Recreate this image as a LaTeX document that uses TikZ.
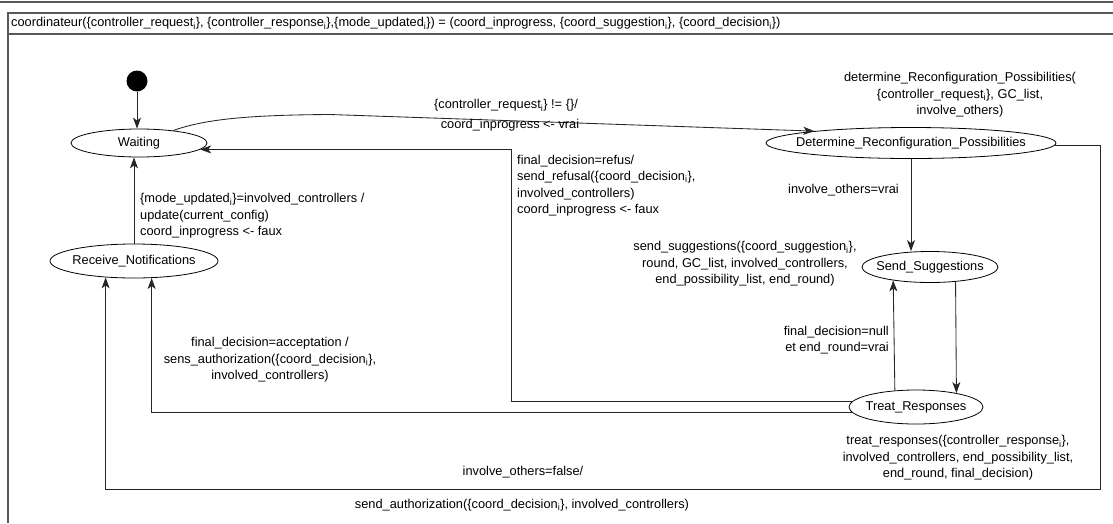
\documentclass[tikz,border=0pt]{standalone}
\usepackage{fontspec}
\setmainfont{Liberation Sans}
\usetikzlibrary{arrows.meta,shapes.geometric,calc}
\newcommand\diagfont{\fontsize{12.8}{16.5}\selectfont}
\newcommand\sbi{\textsubscript{i}}
\begin{document}
\begin{tikzpicture}[x=1pt,y=-1pt,
  frame/.style={draw=black!65, line width=1.1pt},
  state/.style={draw=black, ellipse, inner sep=0pt, line width=0.8pt},
  conn/.style={draw=black!85, line width=0.85pt},
  arr/.style={conn, -{Stealth[length=11pt,width=8pt,inset=3pt]}},
  txt/.style={font=\diagfont, inner sep=0pt, text=black},
  every label/.style={font=\diagfont, inner sep=0pt}
]
\useasboundingbox (0,0) rectangle (1113,523);
% frame
\draw[frame] (0,2) -- (1113,2);
\draw[frame] (1113,13) -- (8,13) -- (8,523);
\draw[frame] (8,34) -- (1113,34);
\node[txt, anchor=west] (title) at (11,23.5) {coordinateur(\{controller\_request\sbi\}, \{controller\_response\sbi\},\{mode\_updated\sbi\}) = (coord\_inprogress, \{coord\_suggestion\sbi\}, \{coord\_decision\sbi\})};

% states
\node[circle, fill=black, minimum size=21pt, inner sep=0pt] (init) at (137,81) {};
\node[state, minimum width=136pt, minimum height=28pt, label=center:{Waiting}] (W) at (139,143) {};
\node[state, minimum width=168pt, minimum height=34pt, label=center:{Receive\_Notifications}] (R) at (134,261) {};
\node[state, minimum width=290pt, minimum height=31pt, label=center:{Determine\_Reconfiguration\_Possibilities}] (D) at (911,143) {};
\node[state, minimum width=136pt, minimum height=31pt, label=center:{Send\_Suggestions}] (S) at (930,267) {};
\node[state, minimum width=134pt, minimum height=34pt, label=center:{Treat\_Responses}] (T) at (916,407) {};

% helper coordinates
\coordinate (refx) at (511,0);
\coordinate (fr) at (1100,489);

% connectors
\draw[arr] (init.south) -- (init.south |- W.north);
\draw[arr] (W.20) .. controls (205,119) and (250,115) .. (330,114.5) -- (D.173);
\draw[arr] (D.south) -- (D.south |- S.north);
\draw[arr] (S.-30) -- (T.19.4);
\draw[arr] (T.142.5) -- (S.200.7);
\draw[arr] (T.175) -- (T.175 -| refx) -- (refx |- W.-6) -- (W.-6);
\draw[arr] (T.185) -- (T.185 -| R.-44.4) -- (R.-44.4);
\draw[arr] (R.north) -- (R.north |- W.south);
\draw[arr] (D.-1.6) -| (fr) -| (R.210.8);

% labels
\node[txt] (lreq) at (506,105.5) {\{controller\_request\sbi\} != \{\}/};
\node[txt] (lreq2) at (510,125) {coord\_inprogress <- vrai};
\node[txt, align=center] (ldet) at (960,95) {determine\_Reconfiguration\_Possibilities(\\\{controller\_request\sbi\}, GC\_list,\\involve\_others)};
\node[txt, anchor=east] (lvrai) at (899,190) {involve\_others=vrai};
\node[txt, align=center] (lsend) at (745,264) {send\_suggestions(\{coord\_suggestion\sbi\},\\round, GC\_list, involved\_controllers,\\end\_possibility\_list, end\_round)};
\node[txt, align=right, anchor=east] (lnull) at (889,340) {final\_decision=null\\et end\_round=vrai};
\node[txt, align=center] (ltreat) at (958,458) {treat\_responses(\{controller\_response\sbi\},\\involved\_controllers, end\_possibility\_list,\\end\_round, final\_decision)};
\node[txt, align=left, anchor=west] (lrefus) at (517,185.5) {final\_decision=refus/\\send\_refusal(\{coord\_decision\sbi\},\\involved\_controllers)\\coord\_inprogress <- faux};
\node[txt, align=left, anchor=west] (lmode) at (140,216) {\{mode\_updated\sbi\}=involved\_controllers /\\update(current\_config)\\coord\_inprogress <- faux};
\node[txt, align=center] (lacc) at (270,360) {final\_decision=acceptation /\\sens\_authorization(\{coord\_decision\sbi\},\\involved\_controllers)};
\node[txt] (lfalse) at (523,472) {involve\_others=false/};
\node[txt] (lauth) at (522,505) {send\_authorization(\{coord\_decision\sbi\}, involved\_controllers)};
\end{tikzpicture}
\end{document}
